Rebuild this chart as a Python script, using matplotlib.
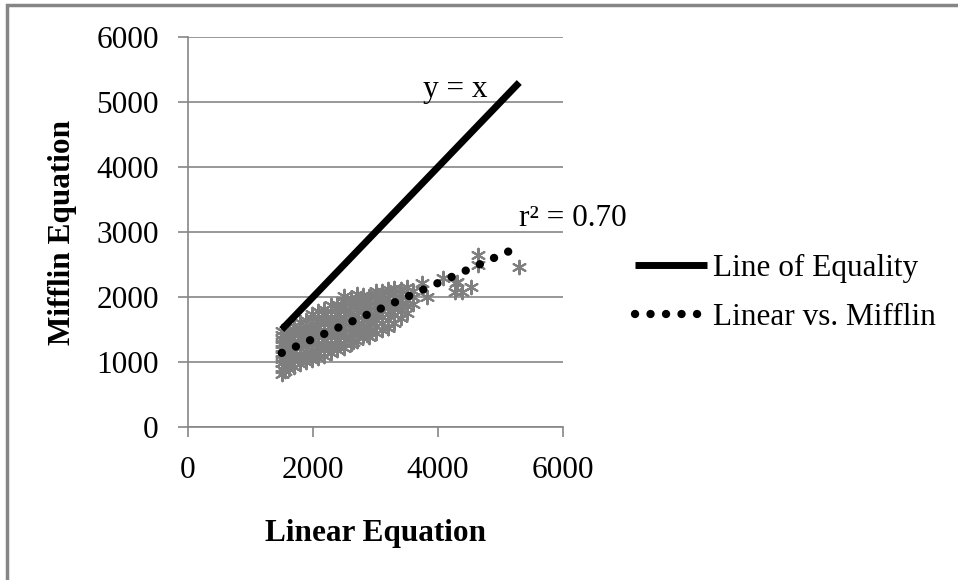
import numpy as np
import matplotlib
matplotlib.use("Agg")
import matplotlib.pyplot as plt
from matplotlib.patches import Rectangle

plt.rcParams["font.family"] = ["Liberation Serif", "DejaVu Serif"]

# Scatter of individual subjects (approximate)
linear_x = (
    [1500] * 10 + [1550] * 8 + [1620] * 8 + [1700] * 9 + [1790] * 9 + [1880] * 9
    + [1980] * 10 + [2080] * 10 + [2180] * 10 + [2290] * 10 + [2390] * 10
    + [2500] * 11 + [2600] * 10 + [2700] * 10 + [2800] * 9 + [2900] * 9
    + [3000] * 9 + [3100] * 8 + [3200] * 8 + [3300] * 7 + [3400] * 6 + [3500] * 5
    + [3600] * 3
    + [2640, 2860, 3200, 3740, 3820, 4080, 4290, 4300, 4270, 4380, 4530, 4640, 4640, 5300]
)
mifflin_y = (
    [820, 900, 980, 1050, 1120, 1200, 1280, 1350, 1420, 1480]
    + [860, 950, 1030, 1110, 1190, 1260, 1330, 1400]
    + [900, 990, 1070, 1150, 1230, 1310, 1390, 1460]
    + [930, 1010, 1090, 1170, 1250, 1330, 1410, 1500, 1560]
    + [970, 1050, 1130, 1210, 1290, 1370, 1450, 1530, 1620]
    + [1000, 1080, 1160, 1240, 1320, 1400, 1480, 1560, 1650]
    + [1030, 1110, 1190, 1270, 1350, 1430, 1510, 1590, 1680, 1740]
    + [1060, 1140, 1220, 1300, 1380, 1460, 1540, 1620, 1700, 1780]
    + [1100, 1180, 1260, 1340, 1420, 1500, 1580, 1660, 1740, 1820]
    + [1140, 1220, 1300, 1380, 1460, 1540, 1620, 1700, 1780, 1870]
    + [1180, 1260, 1340, 1420, 1500, 1580, 1660, 1740, 1820, 1900]
    + [1220, 1300, 1380, 1460, 1540, 1620, 1700, 1780, 1860, 1940, 2010]
    + [1280, 1360, 1440, 1520, 1600, 1680, 1760, 1840, 1920, 1990]
    + [1330, 1410, 1490, 1570, 1650, 1730, 1810, 1890, 1970, 2050]
    + [1400, 1480, 1560, 1640, 1720, 1800, 1880, 1960, 2030]
    + [1380, 1460, 1540, 1620, 1700, 1780, 1860, 1940, 2020]
    + [1450, 1550, 1640, 1720, 1800, 1880, 1960, 2040, 2100]
    + [1500, 1600, 1700, 1780, 1860, 1940, 2020, 2090]
    + [1520, 1640, 1740, 1830, 1910, 1990, 2070, 2130]
    + [1600, 1720, 1820, 1900, 1980, 2060, 2140]
    + [1680, 1780, 1880, 1960, 2040, 2120]
    + [1750, 1860, 1950, 2050, 2150]
    + [1900, 2000, 2100]
    + [1310, 1415, 1520, 2215, 2000, 2290, 2215, 2230, 2075, 2075, 2150, 2645, 2490, 2460]
)

# Line of equality and fitted trend
equality_x = [1500, 5300]
trend_x = [1500, 5150]
trend_y = [1140, 2710]

ticks = [0, 2000, 4000, 6000]
yticks = [0, 1000, 2000, 3000, 4000, 5000, 6000]
grey = "#868686"
fs = 22.5

fig = plt.figure(figsize=(9.58, 5.8), dpi=100)
ax = fig.add_axes([188 / 958, 1 - 427 / 580, 375 / 958, 390 / 580])

# outer frame of the figure box
fig.patches.append(Rectangle((7 / 958, -0.2), 1.2, 1.2 - 5 / 580,
                             transform=fig.transFigure, fill=False,
                             edgecolor=grey, linewidth=2.5))

ax.scatter(linear_x, mifflin_y, marker=(6, 2, 0), s=95, color="#7f7f7f",
           linewidths=1.5, zorder=2)
ax.plot(equality_x, equality_x, color="black", linewidth=5, solid_capstyle="butt",
        label="Line of Equality", zorder=3)
ax.plot(trend_x, trend_y, color="black", linewidth=6, linestyle=(0, (0.01, 1.85)),
        dash_capstyle="round", label="Linear vs. Mifflin", zorder=4)

ax.text(4270, 5200, "y = x", fontsize=fs, ha="center", va="center")
ax.text(7020, 3215, "r² = 0.70", fontsize=fs, ha="right", va="center")

ax.set_xlim(0, 6000)
ax.set_ylim(0, 6000)
ax.set_xticks(ticks)
ax.set_yticks(yticks)
ax.grid(axis="y", color=grey, linewidth=1.2)
ax.set_axisbelow(True)
for s in ["top", "right"]:
    ax.spines[s].set_visible(False)
for s in ["left", "bottom"]:
    ax.spines[s].set_color(grey)
    ax.spines[s].set_linewidth(1.2)
ax.tick_params(colors=grey, labelcolor="black", labelsize=fs, length=7, width=1.2,
               direction="out")
ax.tick_params(axis="y", pad=14)
ax.tick_params(axis="x", pad=14)

ax.set_xlabel("Linear Equation", fontsize=fs, fontweight="bold", labelpad=24)
ax.set_ylabel("Mifflin Equation", fontsize=fs, fontweight="bold", labelpad=14)

fig.legend(loc="center left", bbox_to_anchor=(635 / 958, 1 - 293 / 580), frameon=False,
           fontsize=fs, handlelength=2.3, handletextpad=0.2, labelspacing=0.66,
           borderaxespad=0, borderpad=0)

fig.savefig("out.png", dpi=100)
